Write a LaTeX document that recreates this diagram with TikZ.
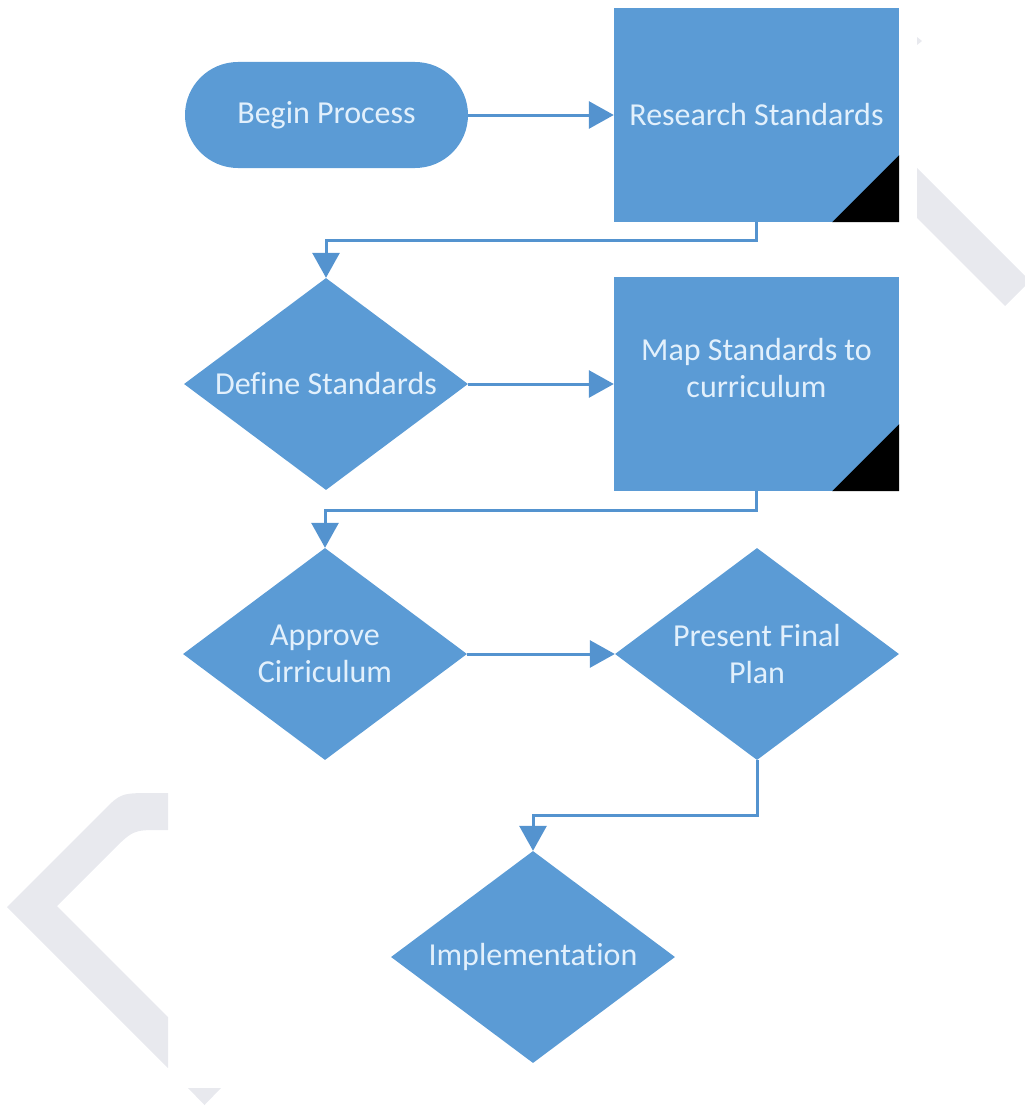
\documentclass[tikz,border=0pt]{standalone}
\usepackage{fontspec}
\setmainfont{Carlito}[Ligatures=NoCommon]
\usetikzlibrary{shapes.geometric,arrows.meta}
\definecolor{boxblue}{RGB}{91,155,213}
\definecolor{lineblue}{RGB}{84,147,207}
\definecolor{txtcol}{RGB}{226,240,252}
\definecolor{wmgray}{RGB}{232,233,238}
\tikzset{
  base/.style={fill=boxblue, draw=none, text=txtcol, font=\fontsize{32}{37}\selectfont, align=center, inner sep=0pt},
  terminal/.style={base, rectangle, rounded corners=53pt, minimum width=283pt, minimum height=106pt},
  procbox/.style={base, rectangle, minimum width=285pt, minimum height=214pt},
  decision/.style={base, diamond, aspect=1.34, minimum width=284pt, minimum height=212pt},
  txtonly/.style={text=txtcol, font=\fontsize{32}{37}\selectfont, align=center, inner sep=0pt},
  conn/.style={draw=lineblue, line width=3pt, -{Triangle[length=25pt,width=27pt]}},
  corner/.style={fill=black}
}
\begin{document}
\begin{tikzpicture}[x=1pt,y=-1pt]
\useasboundingbox (0,0) rectangle (1025,1108);
% watermark shapes
\fill[wmgray] (168,793) -- (155,793) .. controls (121,793) .. (104,810) -- (7,907) -- (168,1068) -- (168,1017) -- (57,906) -- (110,853) .. controls (133,830) .. (160,830) -- (168,830) -- cycle;
\fill[wmgray] (188,1088) -- (221,1088) -- (204.5,1105) -- cycle;
\fill[wmgray] (917,168) -- (1025,276) -- (1025,286) -- (1005,306) -- (917,218) -- cycle;
\fill[wmgray] (917,37) -- (922,41) -- (917,45) -- cycle;
% nodes
\node[terminal] (begin) at (326.5,115) {Begin Process};
\node[procbox] (research) at (756.5,115) {Research Standards};
\fill[corner] (research.south east) -- ++(-67,0) -- ++(67,-67) -- cycle;
\node[decision] (define) at (326,384) {Define Standards};
\node[procbox] (map) at (756.5,384) {};
\node[txtonly] (maptxt) at (756.5,368) {Map Standards to\\curriculum};
\fill[corner] (map.south east) -- ++(-67,0) -- ++(67,-67) -- cycle;
\node[decision] (approve) at (325,654) {Approve\\Cirriculum};
\node[decision] (present) at (757,654) {Present Final\\Plan};
\node[decision] (impl) at (533,957) {Implementation};
% connectors
\coordinate (c1) at (756.5,240);
\coordinate (c2) at (756.5,510);
\coordinate (c3) at (757,815);
\draw[conn] (begin.east) -- (research.west);
\draw[conn] (research.south) -- (c1) -| (define.north);
\draw[conn] (define.east) -- (map.west);
\draw[conn] (map.south) -- (c2) -| (approve.north);
\draw[conn] (approve.east) -- (present.west);
\draw[conn] (present.south) -- (c3) -| (impl.north);
\end{tikzpicture}
\end{document}
